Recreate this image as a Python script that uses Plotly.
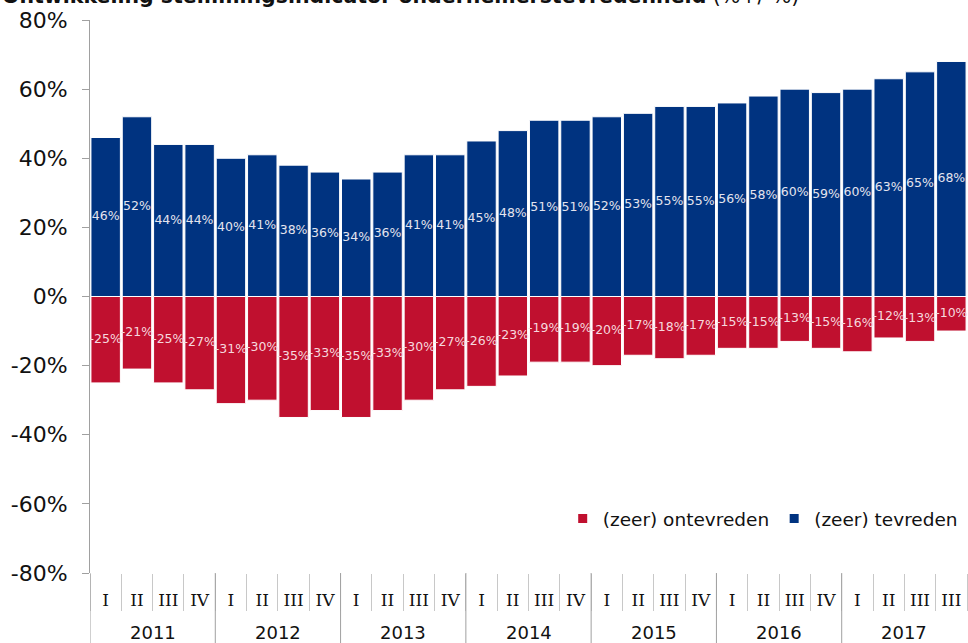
import plotly.graph_objects as go

# Data: stemmingsindicator ondernemerstevredenheid per kwartaal
years = ["2011"] * 4 + ["2012"] * 4 + ["2013"] * 4 + ["2014"] * 4 + ["2015"] * 4 + ["2016"] * 4 + ["2017"] * 4
quarters = ["I", "II", "III", "IV"] * 6 + ["I", "II", "III", "III"]
tevreden = [46, 52, 44, 44, 40, 41, 38, 36, 34, 36, 41, 41, 45, 48,
            51, 51, 52, 53, 55, 55, 56, 58, 60, 59, 60, 63, 65, 68]
ontevreden = [-25, -21, -25, -27, -31, -30, -35, -33, -35, -33, -30, -27, -26, -23,
              -19, -19, -20, -17, -18, -17, -15, -15, -13, -15, -16, -12, -13, -10]
y_ticks = [-80, -60, -40, -20, 0, 20, 40, 60, 80]

BLUE = "#003380"
RED = "#C0102F"
FONT = "DejaVu Sans"
GRID = "#A0A0A0"

# unieke categorie per kwartaal (2017 heeft twee keer "III")
cats = [f"{y}_{i}" for i, y in enumerate(years)]
n = len(cats)

fig = go.Figure()

fig.add_trace(go.Bar(x=cats, y=tevreden, marker=dict(color=BLUE, line=dict(color="white", width=1)),
                     showlegend=False, hoverinfo="skip"))
fig.add_trace(go.Bar(x=cats, y=ontevreden, marker=dict(color=RED, line=dict(color="white", width=1)),
                     showlegend=False, hoverinfo="skip"))

# labels in het midden van de balken
fig.add_trace(go.Scatter(x=cats, y=[v / 2 for v in tevreden], mode="text",
                         text=[f"{v}%" for v in tevreden],
                         textfont=dict(family=FONT, size=12.5, color="#E4E4EE"),
                         showlegend=False, hoverinfo="skip", cliponaxis=False))
fig.add_trace(go.Scatter(x=cats, y=[v / 2 for v in ontevreden], mode="text",
                         text=[f"{v}%" for v in ontevreden],
                         textfont=dict(family=FONT, size=12.5, color="#F6D8DE"),
                         showlegend=False, hoverinfo="skip", cliponaxis=False))

# legenda
fig.add_trace(go.Scatter(x=[None], y=[None], mode="markers", name="(zeer) ontevreden",
                         marker=dict(symbol="square", size=9, color=RED)))
fig.add_trace(go.Scatter(x=[None], y=[None], mode="markers", name="(zeer) tevreden",
                         marker=dict(symbol="square", size=9, color=BLUE)))

# jaarlabels en scheidingslijnen onder de as
annotations = []
shapes = []
year_names = list(dict.fromkeys(years))
for yr in year_names:
    idx = [i for i, y in enumerate(years) if y == yr]
    annotations.append(dict(x=sum(idx) / len(idx), xref="x", y=-0.107, yref="paper",
                            text=yr, showarrow=False, yanchor="middle",
                            font=dict(family=FONT, size=18, color="#111")))
    shapes.append(dict(type="line", xref="x", yref="paper", x0=idx[0] - 0.5, x1=idx[0] - 0.5,
                       y0=0, y1=-70 / 553, line=dict(color=GRID, width=1)))

annotations.append(dict(
    xref="paper", yref="paper", x=-90 / 877, y=1.0175, xanchor="left", yanchor="bottom",
    text="<b>Ontwikkeling stemmingsindicator ondernemerstevredenheid</b> (%+/-%)",
    showarrow=False, font=dict(family=FONT, size=20.5, color="#111"),
))

fig.update_layout(
    width=968, height=643,
    margin=dict(l=90, r=1, t=20, b=70),
    plot_bgcolor="white", paper_bgcolor="white",
    barmode="relative", bargap=0.06,
    font=dict(family=FONT, color="#111"),
    xaxis=dict(
        type="category", automargin=False, range=[-0.5, n - 0.5],
        tickvals=cats, ticktext=quarters,
        showline=False, showgrid=False, zeroline=False,
        ticks="outside", tickson="boundaries", ticklen=37, tickcolor="#C8C8C8",
        ticklabelstandoff=15,
        tickfont=dict(family="DejaVu Serif", size=17, color="#111"),
    ),
    xaxis2=dict(
        overlaying="x", anchor="free", position=0.5, side="bottom",
        range=[-0.5, n - 0.5], showline=True, linecolor="#8C8C8C", linewidth=2,
        ticks="outside", tickvals=[i + 0.5 for i in range(n - 1)], ticklen=4,
        tickcolor="#9A9A9A", showticklabels=False, showgrid=False, zeroline=False,
        layer="above traces",
    ),
    yaxis=dict(
        range=[-80, 80], tickvals=y_ticks, ticktext=[f"{v}%" for v in y_ticks],
        automargin=False, ticklabeloverflow="allow",
        showgrid=False, zeroline=False, showline=True, linecolor=GRID, linewidth=1,
        ticks="outside", ticklen=7, tickcolor=GRID, ticklabelstandoff=10,
        tickfont=dict(family=FONT, size=22, color="#111"),
    ),
    legend=dict(orientation="h", x=0.539, xanchor="left", y=0.0976, yanchor="middle",
                font=dict(family=FONT, size=18.5, color="#111"), bgcolor="rgba(0,0,0,0)",
                itemwidth=30),
    annotations=annotations,
    shapes=shapes,
)

# standaard body-marge van de pagina weghalen zodat de figuur precies in het venster past
fig.write_html("out.html",
               config={"displayModeBar": False},
               post_script="document.body.style.margin='0';"
                           "document.documentElement.style.overflow='hidden';")
